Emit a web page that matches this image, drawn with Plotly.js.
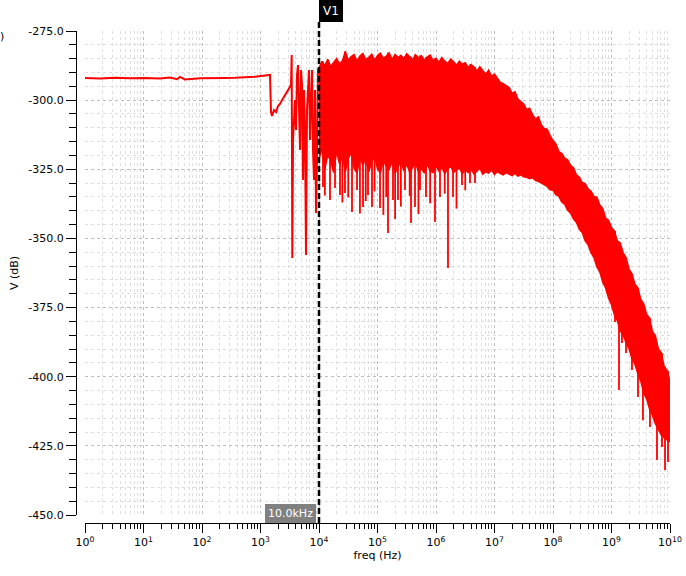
<!DOCTYPE html>
<html><head><meta charset="utf-8">
<script src="https://cdn.plot.ly/plotly-3.0.1.min.js"></script>
<style>html,body{margin:0;padding:0;background:#fff}#chart{width:686px;height:576px}</style>
</head><body><div id="chart"></div>
<script>
// Low-frequency part of the trace (Hz, dB)
const lowFreq = [1,1.8,3.26,5.88,10.6,19.1,28.4,37.4,42.1,51.2,92.4,167,247,366,543,805,1194,1453,
  1512,1574,1703,1842,1993,2156,2332,2523,2730,2953,3194,3322,3413,3497,3595,3740,3890,4046,4208,4377,
  4553,4735,4925,5123,5328,5542,5765,5996,6237,6487,6747,7018,7300,7593,7898,8215,8544,8887,9244,9615,10000];
const lowV = [-292.0,-292.2,-291.9,-292.1,-292.0,-292.2,-291.8,-292.4,-291.6,-292.5,-292.1,-292.2,-292.0,-291.9,-291.8,-291.5,-291.1,-290.9,
  -304.3,-305.7,-303.6,-304.3,-302.1,-301.4,-300.0,-298.9,-297.8,-296.7,-295.2,-294.2,-283.7,-357.1,-314.4,-307.2,-300.0,-310.8,-290.9,-287.3,
  -300.0,-318.0,-289.1,-294.5,-328.9,-296.3,-310.8,-356.0,-303.6,-292.7,-289.1,-314.4,-300.0,-289.1,-318.0,-328.9,-296.3,-340.8,-321.6,-289.1,-288.4];

// Dense high-frequency part: sweep points with upper / lower envelope of the oscillation (dB)
const sweepFreq = [
  1.00e4,1.12e4,1.26e4,1.41e4,1.58e4,1.78e4,2.00e4,2.24e4,2.51e4,2.82e4,3.16e4,3.55e4,3.98e4,4.47e4,5.01e4,5.62e4,6.31e4,7.08e4,7.94e4,8.91e4,
  1.00e5,1.12e5,1.26e5,1.41e5,1.58e5,1.78e5,2.00e5,2.24e5,2.51e5,2.82e5,3.16e5,3.55e5,3.98e5,4.47e5,5.01e5,5.62e5,6.31e5,7.08e5,7.94e5,8.91e5,
  1.00e6,1.12e6,1.26e6,1.41e6,1.58e6,1.78e6,2.00e6,2.24e6,2.51e6,2.82e6,3.16e6,3.55e6,3.98e6,4.47e6,5.01e6,5.62e6,6.31e6,7.08e6,7.94e6,8.91e6,
  1.00e7,1.12e7,1.26e7,1.41e7,1.58e7,1.78e7,2.00e7,2.24e7,2.51e7,2.82e7,3.16e7,3.55e7,3.98e7,4.47e7,5.01e7,5.62e7,6.31e7,7.08e7,7.94e7,8.91e7,
  1.00e8,1.12e8,1.26e8,1.41e8,1.58e8,1.78e8,2.00e8,2.24e8,2.51e8,2.82e8,3.16e8,3.55e8,3.98e8,4.47e8,5.01e8,5.62e8,6.31e8,7.08e8,7.94e8,8.91e8,
  1.00e9,1.12e9,1.26e9,1.41e9,1.58e9,1.78e9,2.00e9,2.24e9,2.51e9,2.82e9,3.16e9,3.55e9,3.98e9,4.47e9,5.01e9,5.62e9,6.31e9,7.08e9,7.94e9,8.91e9,
  1.00e10];
const upperV = [
  -288.4,-286.0,-287.5,-285.2,-287.8,-286.4,-285.0,-286.9,-285.8,-282.4,
  -285.6,-284.2,-283.5,-285.9,-284.0,-283.1,-285.3,-284.6,-283.4,-285.5,
  -283.9,-283.0,-284.9,-284.1,-282.9,-285.2,-283.5,-284.6,-283.8,-285.0,
  -283.2,-284.3,-285.4,-283.6,-284.8,-283.9,-285.6,-284.4,-283.7,-285.7,
  -284.9,-286.3,-284.6,-285.9,-286.8,-285.2,-286.1,-287.4,-285.9,-287.0,
  -286.5,-288.2,-287.1,-288.0,-289.4,-287.9,-289.3,-290.6,-289.2,-291.4,
  -290.6,-292.2,-293.6,-294.0,-294.8,-295.4,-297.5,-297.0,-299.6,-300.5,
  -301.4,-303.4,-302.9,-305.2,-306.9,-306.0,-308.9,-310.2,-310.5,-312.8,
  -314.6,-315.8,-318.6,-319.2,-321.0,-321.6,-323.6,-324.4,-327.0,-327.9,
  -329.8,-330.2,-332.1,-332.9,-334.8,-335.1,-337.9,-339.2,-342.6,-343.5,
  -346.0,-347.3,-350.9,-351.6,-355.2,-357.0,-361.2,-362.8,-366.5,-367.9,
  -372.0,-373.6,-377.4,-378.8,-383.6,-385.2,-389.9,-391.4,-396.3,-397.8,
  -401.5];
const lowerV = [
  -321.6,-317.4,-324.8,-319.9,-322.0,-326.2,-318.5,-323.0,-320.4,-325.8,
  -321.2,-319.0,-324.6,-326.4,-320.8,-323.4,-321.0,-325.9,-322.6,-320.2,
  -324.9,-326.3,-321.8,-323.9,-325.1,-322.1,-326.5,-324.0,-321.9,-325.6,
  -323.2,-326.1,-324.4,-322.6,-325.8,-324.7,-326.4,-323.0,-325.5,-326.2,
  -323.9,-325.7,-324.3,-326.5,-325.0,-323.8,-326.1,-325.3,-324.5,-326.6,
  -325.1,-326.2,-324.9,-326.7,-325.6,-324.6,-326.8,-325.9,-326.4,-325.2,
  -326.9,-325.8,-326.6,-327.0,-326.2,-326.9,-327.3,-326.5,-327.5,-327.0,
  -327.7,-327.9,-328.4,-328.1,-329.0,-329.4,-330.0,-330.8,-331.2,-332.4,
  -332.6,-334.2,-334.8,-336.8,-337.6,-339.8,-340.9,-343.0,-344.1,-346.7,
  -347.9,-350.9,-352.3,-355.2,-356.9,-360.3,-362.1,-365.8,-367.9,-371.6,
  -374.0,-377.6,-379.8,-383.4,-384.9,-387.8,-389.9,-393.6,-395.4,-398.8,
  -401.5,-405.9,-408.0,-411.7,-413.9,-417.0,-419.0,-421.0,-422.0,-422.8,
  -423.6];

// Deep downward spikes of the oscillation
const spikeFreq = [11700,12600,15420,18780,22860,25100,27800,31600,36650,44640,50100,56540,63100,68840,80600,89100,110400,126000,141000,
  151100,184000,200000,224000,251000,295100,355000,373900,437600,501000,532600,674500,794000,961400,1170000,1410000,1603000,1954000,
  2240000,2782000,3160000,3811000,4642000,
  1.148e9,1.343e9,1.511e9,1.770e9,2.239e9,2.837e9,3.451e9,4.547e9,5.993e9,7.295e9,8.218e9,9.25e9];
const spikeV = [-331.4,-334.5,-336.1,-331.8,-334.3,-337.0,-333.6,-335.2,-340.4,-332.5,-341.0,-338.6,-336.5,-334.3,-338.6,-333.0,-339.0,-341.5,-335.0,
  -348.0,-336.1,-343.0,-336.1,-338.5,-332.5,-334.6,-344.4,-338.6,-341.2,-332.5,-335.0,-337.3,-344.1,-335.0,-333.8,-360.7,-335.0,
  -339.2,-330.7,-332.6,-330.0,-330.0,
  -380.2,-404.8,-387.8,-391.4,-397.6,-407.3,-415.7,-418.2,-430.1,-425.4,-433.7,-430.8];

// Axes
const xTickVals = [1,10,100,1e3,1e4,1e5,1e6,1e7,1e8,1e9,1e10];
const xTickText = ['10<sup>0</sup>','10<sup>1</sup>','10<sup>2</sup>','10<sup>3</sup>','10<sup>4</sup>','10<sup>5</sup>',
  '10<sup>6</sup>','10<sup>7</sup>','10<sup>8</sup>','10<sup>9</sup>','10<sup>10</sup>'];
const yTickVals = [-450,-425,-400,-375,-350,-325,-300,-275];
const yTickText = ['-450.0','-425.0','-400.0','-375.0','-350.0','-325.0','-300.0','-275.0'];
const markerFreq = 1e4;
const markerName = 'V1';
const markerLabel = '10.0kHz';

const RED = '#ff0000';
const FONT = 'DejaVu Sans, sans-serif';

// spike segments: from band top at nearest sweep point down to spike value
const spX = [], spY = [];
spikeFreq.forEach((f, k) => {
  let best = 0, bd = Infinity;
  sweepFreq.forEach((s, i) => { const d = Math.abs(Math.log10(s) - Math.log10(f)); if (d < bd) { bd = d; best = i; } });
  spX.push(f, f, null); spY.push(upperV[best], spikeV[k], null);
});

const minorX = [];
for (let d = 0; d < 10; d++) for (let m = 2; m <= 9; m++) minorX.push(m * Math.pow(10, d));

const traces = [
  {x: sweepFreq, y: upperV, mode: 'lines', line: {color: RED, width: 1.5}, hoverinfo: 'skip', showlegend: false},
  {x: sweepFreq, y: lowerV, mode: 'lines', fill: 'tonexty', fillcolor: RED, line: {color: RED, width: 1.5}, hoverinfo: 'skip', showlegend: false},
  {x: spX, y: spY, mode: 'lines', line: {color: RED, width: 1.8}, connectgaps: false, hoverinfo: 'skip', showlegend: false},
  {x: lowFreq, y: lowV, mode: 'lines', line: {color: RED, width: 2}, hoverinfo: 'skip', showlegend: false}
];

const W = 686, H = 576, mL = 20, mR = 16, mT = 20, mB = 40;
const pw = W - mL - mR, ph = H - mT - mB;
const px = v => (v - mL) / pw;            // pixel x -> paper
const py = v => (H - mB - v) / ph;        // pixel y -> paper

const layout = {
  width: W, height: H,
  margin: {l: mL, r: mR, t: mT, b: mB, pad: 0},
  paper_bgcolor: '#ffffff', plot_bgcolor: '#ffffff',
  font: {family: FONT, size: 11, color: '#000'},
  showlegend: false,
  xaxis: {
    type: 'log', range: [0, 10], domain: [px(85), 1],
    anchor: 'free', position: py(523),
    tickmode: 'array', tickvals: xTickVals, ticktext: xTickText,
    ticks: 'outside', ticklen: 9, tickwidth: 1, tickcolor: '#000',
    showline: true, linecolor: '#000', linewidth: 1,
    showgrid: true, gridcolor: '#bdbdbd', griddash: 'dot', gridwidth: 1,
    zeroline: false,
    minor: {tickmode: 'array', tickvals: minorX, ticks: 'outside', ticklen: 5, tickcolor: '#000',
            showgrid: true, gridcolor: '#dedede', griddash: 'dot', gridwidth: 1},
    tickfont: {size: 11, family: FONT},
    title: {text: 'freq (Hz)', font: {size: 11, family: FONT}, standoff: 2}
  },
  yaxis: {
    range: [-450, -275], domain: [py(515), py(31)],
    anchor: 'free', position: px(76),
    tickmode: 'array', tickvals: yTickVals, ticktext: yTickText,
    ticks: 'outside', ticklen: 10, tickwidth: 1, tickcolor: '#000',
    showline: true, linecolor: '#000', linewidth: 1,
    showgrid: true, gridcolor: '#bdbdbd', griddash: 'dot', gridwidth: 1,
    zeroline: false,
    minor: {dtick: 5, ticks: 'outside', ticklen: 7, tickcolor: '#000',
            showgrid: true, gridcolor: '#dedede', griddash: 'dot', gridwidth: 1},
    tickfont: {size: 11, family: FONT},
    title: {text: 'V (dB)', font: {size: 11, family: FONT}, standoff: 6}
  },
  shapes: [
    {type: 'line', xref: 'x', yref: 'paper', x0: markerFreq, x1: markerFreq, y0: py(523), y1: py(21),
     line: {color: '#000', width: 2.5, dash: '6px,3px'}}
  ],
  annotations: [
    {xref: 'x', yref: 'paper', x: Math.log10(markerFreq), y: py(11), xanchor: 'left', yanchor: 'middle',
     text: markerName, showarrow: false, bgcolor: '#000', bordercolor: '#000', borderwidth: 1, borderpad: 3,
     font: {color: '#fff', size: 12, family: FONT}},
    {xref: 'x', yref: 'paper', x: Math.log10(markerFreq), y: py(513), xanchor: 'right', yanchor: 'middle', xshift: -3,
     text: markerLabel, showarrow: false, bgcolor: '#808080', bordercolor: '#808080', borderwidth: 1, borderpad: 2,
     font: {color: '#fff', size: 11, family: FONT}},
    {xref: 'paper', yref: 'paper', x: px(-2), y: py(36), xanchor: 'left', yanchor: 'middle',
     text: ')', showarrow: false, font: {size: 11, family: FONT, color: '#000'}}
  ]
};

Plotly.newPlot('chart', traces, layout, {staticPlot: true, displayModeBar: false});
</script>
</body></html>
